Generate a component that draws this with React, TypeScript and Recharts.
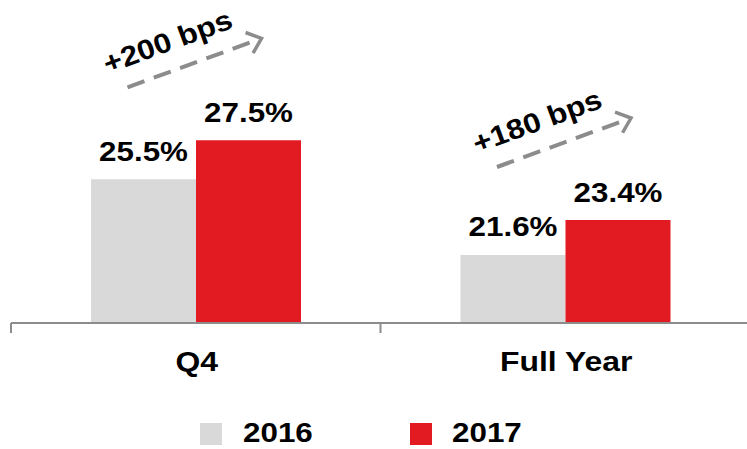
import * as React from "react";
import { BarChart, Bar, XAxis, YAxis, LabelList, Legend } from "recharts";

const categories = ["Q4", "Full Year"];
const values2016 = [25.5, 21.6];
const values2017 = [27.5, 23.4];
const changeLabels = ["+200 bps", "+180 bps"];
const seriesNames = ["2016", "2017"];

const FONT = "'Liberation Sans', Arial, sans-serif";
const GREY = "#d9d9d9";
const RED = "#e21b23";
const ARROW = "#8c8c8c";
const SX = 1.12; // the source text is a bit stretched sideways

const data = categories.map((name, i) => ({
  name,
  y2016: values2016[i],
  y2017: values2017[i],
  change: changeLabels[i],
}));

const WideText = ({ x, y, size = 28, rotate = 0, dy, children }: any) => (
  <g transform={`translate(${x} ${y}) rotate(${rotate}) scale(${SX} 1)`}>
    <text x={0} y={0} dy={dy} textAnchor="middle" fontFamily={FONT} fontWeight="bold" fontSize={size} fill="#000">
      {children}
    </text>
  </g>
);

const CategoryTick = (props: any) => {
  const { x, y, payload } = props;
  const half = (payload && payload.offset) || 184;
  const last = payload && payload.index === categories.length - 1;
  return (
    <g>
      <line x1={x - half} x2={x - half} y1={y} y2={y + 10} stroke={ARROW} strokeWidth={2} />
      {last && <line x1={x + half} x2={x + half} y1={y} y2={y + 10} stroke={ARROW} strokeWidth={2} />}
      <WideText x={x + 1} y={y + 48} size={28.5}>
        {payload.value}
      </WideText>
    </g>
  );
};

const ValueLabel = (props: any) => {
  const { x, y, width, value } = props;
  return (
    <WideText x={x + width / 2} y={y - 18.5}>
      {value.toFixed(1)}%
    </WideText>
  );
};

// dashed arrow + rotated "+xxx bps" above each pair of bars
const ChangeArrow = (props: any) => {
  const { x, y, width, index } = props;
  const sx = x - width / 2 - 16;
  const sy = y - 53;
  const dx = 134;
  const dy = -49;
  const ang = Math.atan2(dy, dx);
  const deg = (ang * 180) / Math.PI;
  const tx = sx + dx;
  const ty = sy + dy;
  const arm = 17;
  const a1 = ang + Math.PI - 0.7;
  const a2 = ang + Math.PI + 0.7;
  return (
    <g>
      <line x1={sx} y1={sy} x2={tx - 3 * Math.cos(ang)} y2={ty - 3 * Math.sin(ang)} stroke={ARROW} strokeWidth={4} strokeDasharray="18 10" />
      <polyline
        points={`${tx + arm * Math.cos(a1)},${ty + arm * Math.sin(a1)} ${tx},${ty} ${tx + arm * Math.cos(a2)},${ty + arm * Math.sin(a2)}`}
        fill="none"
        stroke={ARROW}
        strokeWidth={3.5}
      />
      <WideText x={sx + 40} y={sy - 46} rotate={deg} dy="0.35em">
        {data[index].change}
      </WideText>
    </g>
  );
};

const legendText: React.CSSProperties = {
  position: "absolute",
  top: 28,
  lineHeight: "24px",
  fontFamily: FONT,
  fontWeight: "bold",
  fontSize: 28,
  transform: `scaleX(${SX})`,
  transformOrigin: "left center",
  whiteSpace: "nowrap",
};

const LegendContent = () => (
  <div style={{ position: "relative", height: 56, marginLeft: -11 }}>
    <span style={{ position: "absolute", left: 200, top: 30, width: 22, height: 22, background: GREY }} />
    <span style={{ ...legendText, left: 243 }}>{seriesNames[0]}</span>
    <span style={{ position: "absolute", left: 410, top: 30, width: 22, height: 22, background: RED }} />
    <span style={{ ...legendText, left: 452 }}>{seriesNames[1]}</span>
  </div>
);

export default function App() {
  return (
    <div style={{ position: "absolute", left: 0, top: 0, background: "#fff" }}>
      <BarChart
        width={747}
        height={449}
        data={data}
        margin={{ top: 14, right: -3, left: 11, bottom: 0 }}
        barGap={0}
        barSize={105}
      >
        <XAxis
          dataKey="name"
          height={70}
          axisLine={{ stroke: ARROW, strokeWidth: 2 }}
          tickLine={false}
          tickSize={0}
          tickMargin={0}
          tick={<CategoryTick />}
          interval={0}
        />
        <YAxis hide domain={[18.1, 34]} allowDataOverflow />
        <Legend verticalAlign="bottom" height={56} content={<LegendContent />} />
        <Bar dataKey="y2016" fill={GREY} isAnimationActive={false}>
          <LabelList dataKey="y2016" content={<ValueLabel />} />
        </Bar>
        <Bar dataKey="y2017" fill={RED} isAnimationActive={false}>
          <LabelList dataKey="y2017" content={<ValueLabel />} />
          <LabelList dataKey="change" content={<ChangeArrow />} />
        </Bar>
      </BarChart>
    </div>
  );
}
